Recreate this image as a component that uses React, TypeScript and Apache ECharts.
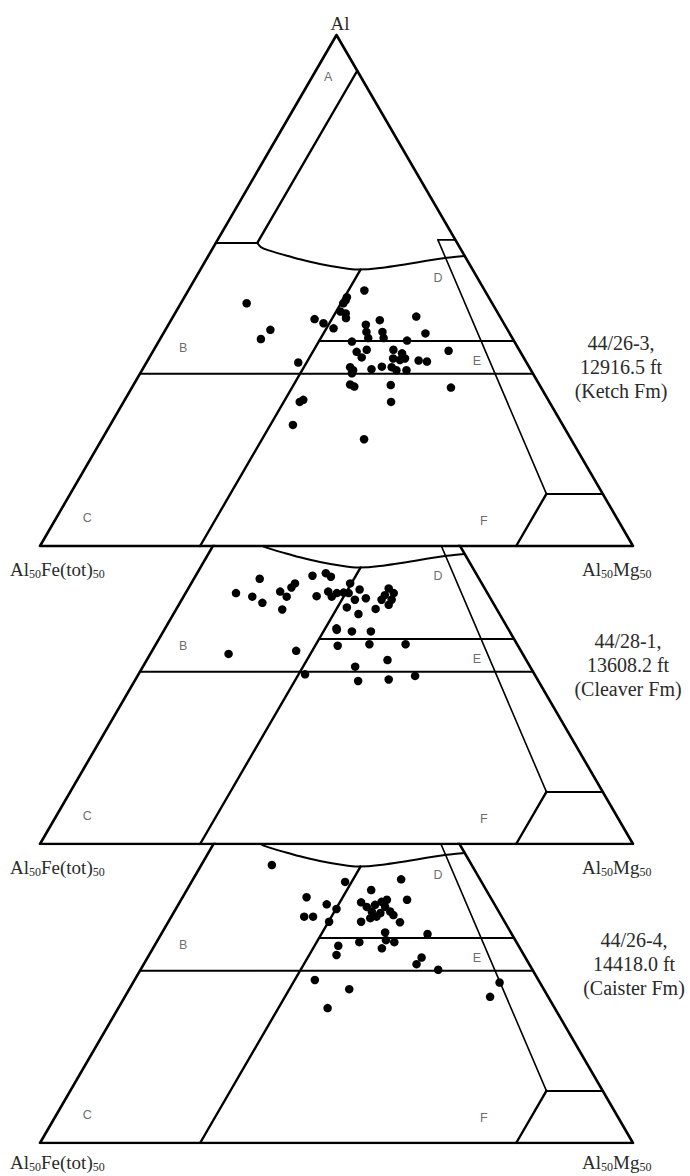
import React, { useEffect, useRef } from "react";
import * as echarts from "echarts";

// Diagram compositions as [Al, Mg] in % of the ternary diagram (Fe(tot) = 100 - Al - Mg)
const ketchPoints: number[][] = [
  [47.5, 11.1], [42.3, 17.7], [40.5, 17.0], [50.0, 29.7], [48.7, 27.4], [48.1, 27.5], [47.5, 27.4],
  [45.9, 27.7], [45.5, 28.8], [44.6, 29.3], [44.4, 24.1], [43.6, 26.0], [42.6, 28.2], [44.2, 35.2],
  [44.9, 41.0], [41.6, 44.2], [43.3, 33.3], [41.9, 34.1], [40.7, 35.0], [41.9, 36.8], [40.7, 37.6],
  [40.0, 32.6], [40.2, 41.8], [38.4, 35.9], [38.0, 34.4], [36.9, 35.8], [38.4, 40.4], [37.7, 42.2],
  [36.7, 41.2], [36.4, 42.5], [36.7, 43.2], [36.3, 45.7], [36.1, 47.2], [38.2, 49.8], [35.9, 25.6],
  [35.0, 34.8], [34.4, 35.6], [33.8, 35.7], [34.6, 38.6], [35.1, 40.1], [35.0, 41.8], [34.4, 42.9],
  [34.4, 44.6], [31.6, 36.5], [31.2, 37.4], [31.5, 43.4], [31.0, 53.8], [28.2, 45.1], [28.2, 29.7],
  [28.6, 30.1], [23.7, 30.8], [20.9, 44.2],
];
const cleaverPoints: number[][] = [
  [51.9, 11.1], [49.1, 8.5], [48.4, 11.6], [47.2, 13.9], [49.4, 15.8], [48.4, 17.4], [50.2, 17.3],
  [51.0, 17.5], [45.9, 17.9], [52.5, 19.7], [53.0, 21.7], [52.3, 22.9], [48.5, 22.4], [49.4, 23.9],
  [48.4, 25.0], [49.1, 25.5], [49.2, 26.6], [51.0, 26.8], [49.1, 27.5], [49.8, 29.0], [47.8, 29.2],
  [48.1, 30.9], [46.3, 28.6], [45.0, 31.2], [46.0, 33.6], [48.7, 33.8], [47.8, 35.4], [46.8, 35.4],
  [47.8, 33.7], [49.1, 35.1], [50.0, 33.8], [42.2, 28.9], [41.9, 29.1], [41.6, 31.8], [41.6, 35.0],
  [37.2, 13.2], [37.8, 24.3], [38.8, 30.8], [39.1, 36.0], [39.1, 42.1], [36.0, 40.6], [34.7, 35.8],
  [33.2, 28.1], [31.9, 37.7], [32.2, 42.7], [32.9, 46.8],
];
const caisterPoints: number[][] = [
  [54.4, 11.9], [51.1, 25.9], [51.6, 35.1], [48.1, 20.9], [46.7, 25.0], [45.8, 27.1], [44.3, 22.4],
  [44.3, 23.9], [43.3, 27.1], [49.5, 31.1], [47.6, 38.1], [47.1, 30.6], [46.2, 32.0], [45.3, 33.3],
  [44.3, 34.6], [47.2, 34.0], [46.2, 35.1], [45.3, 36.4], [44.6, 37.3], [47.6, 34.7], [46.6, 33.2],
  [45.0, 34.9], [44.0, 33.7], [43.3, 32.5], [43.2, 39.1], [41.2, 37.6], [39.7, 38.5], [40.9, 44.9],
  [39.3, 40.1], [39.3, 34.2], [38.1, 38.6], [38.6, 31.0], [36.8, 31.6], [36.3, 46.2], [35.0, 46.0],
  [33.9, 50.2], [31.9, 30.4], [30.1, 37.1], [26.4, 35.3], [31.4, 61.8], [28.6, 61.6],
];

const wells = ["44/26-3,", "44/28-1,", "44/26-4,"];
const depths = ["12916.5 ft", "13608.2 ft", "14418.0 ft"];
const formations = ["(Ketch Fm)", "(Cleaver Fm)", "(Caister Fm)"];

const fieldNames = ["A", "B", "C", "D", "E", "F"];
const fieldPositions: number[][] = [
  [91.8, 2.7], [38.7, 4.8], [5.5, 5.2], [52.4, 40.9], [36.2, 55.6], [4.9, 72.4],
];

// Field boundaries, [Al, Mg]
const outline = [[100, 0], [0, 0], [0, 100], [100, 0]];
const lineA = [[93, 7], [59.3, 7]];
const lineATick = [[59.3, 0], [59.3, 7]];
const curveTop = [
  [59.3, 7], [58.5, 8.0], [57.9, 9.5], [56.9, 12.9], [56.1, 15.8], [55.2, 19.6], [54.4, 23.9],
  [54.1, 26.6], [54.4, 30.1], [56.4, 40.4], [56.75, 43.25],
];
const lineMg27 = [[54.1, 27], [0, 27]];
const lineE1 = [[40.1, 27], [40.1, 59.9]];
const lineE2 = [[33.7, 0], [33.7, 66.3]];
const boxTop = [[59.9, 37.15], [59.9, 40.1]];
const lineInner = [[59.9, 37.15], [10.2, 80.3]];
const lineLowH = [[10.2, 80.3], [10.2, 89.8]];
const lineLowDiag = [[10.2, 80.3], [0, 80.3]];

const boundaries = [
  { pts: outline, w: 2.6 },
  { pts: lineA, w: 2.4 },
  { pts: lineATick, w: 2 },
  { pts: curveTop, w: 2, smooth: 0.3 },
  { pts: lineMg27, w: 2.4 },
  { pts: lineE1, w: 2 },
  { pts: lineE2, w: 2 },
  { pts: boxTop, w: 1.6 },
  { pts: lineInner, w: 1.6 },
  { pts: lineLowH, w: 2 },
  { pts: lineLowDiag, w: 2.4 },
];

const toXY = (p: number[]) => [p[1] + p[0] / 2, p[0]];

export default function App() {
  const ref = useRef<HTMLDivElement>(null);
  useEffect(() => {
    if (!ref.current) return;
    const chart = echarts.init(ref.current, null, { renderer: "svg" });
    const panels = [ketchPoints, cleaverPoints, caisterPoints];
    const bases = [546, 844, 1143];
    const pxPerUnit = 511 / 100;
    const grids: any[] = [];
    const xAxes: any[] = [];
    const yAxes: any[] = [];
    const series: any[] = [];
    const graphics: any[] = [];
    const serif = '"Liberation Serif", "Times New Roman", serif';
    const textColor = "#2a2a2a";
    const rich = {
      n: { fontSize: 19, fontFamily: serif, fill: textColor, color: textColor, lineHeight: 22 },
      s: {
        fontSize: 12,
        fontFamily: serif,
        fill: textColor,
        color: textColor,
        lineHeight: 12,
        verticalAlign: "top",
        padding: [10, 0, 0, 0],
      },
    };
    const rightX = [621, 628, 634];
    const labelDy = [23, 23, 19];
    panels.forEach((pts, i) => {
      const top = i === 0 ? 35 : bases[i - 1];
      const height = bases[i] - top;
      grids.push({ left: 40, top, width: 593, height });
      xAxes.push({ type: "value", gridIndex: i, min: 0, max: 100, show: false });
      yAxes.push({ type: "value", gridIndex: i, min: 0, max: height / pxPerUnit, show: false });
      boundaries.forEach((b) => {
        series.push({
          type: "line",
          xAxisIndex: i,
          yAxisIndex: i,
          data: b.pts.map(toXY),
          symbol: "none",
          smooth: b.smooth || false,
          clip: i > 0,
          silent: true,
          lineStyle: { color: "#000", width: b.w, cap: "round", join: "round" },
        });
      });
      series.push({
        type: "scatter",
        xAxisIndex: i,
        yAxisIndex: i,
        data: pts.map(toXY),
        symbol: "circle",
        symbolSize: 8.5,
        itemStyle: { color: "#000", opacity: 1 },
        silent: true,
      });
      series.push({
        type: "scatter",
        xAxisIndex: i,
        yAxisIndex: i,
        symbolSize: 0,
        silent: true,
        data: fieldNames
          .map((n, k) => ({ name: n, value: toXY(fieldPositions[k]) }))
          .filter((d) => i === 0 || d.name !== "A"),
        label: {
          show: true,
          position: "inside",
          formatter: "{b}",
          fontSize: 12.5,
          fontFamily: '"Liberation Sans", Arial, sans-serif',
          color: "#444",
        },
      });
      const by = bases[i];
      graphics.push({
        type: "text",
        x: 10,
        y: by + labelDy[i],
        style: {
          text: "{n|Al}{s|50}{n|Fe(tot)}{s|50}",
          rich,
          align: "left",
          textAlign: "left",
          verticalAlign: "middle",
          textVerticalAlign: "middle",
        },
      });
      graphics.push({
        type: "text",
        x: 582,
        y: by + labelDy[i],
        style: {
          text: "{n|Al}{s|50}{n|Mg}{s|50}",
          rich,
          align: "left",
          textAlign: "left",
          verticalAlign: "middle",
          textVerticalAlign: "middle",
        },
      });
      graphics.push({
        type: "text",
        x: rightX[i],
        y: by - 179,
        style: {
          text: `${wells[i]}\n${depths[i]}\n${formations[i]}`,
          fontSize: 20,
          fontFamily: serif,
          lineHeight: 24,
          fill: textColor,
          align: "center",
          textAlign: "center",
          verticalAlign: "middle",
          textVerticalAlign: "middle",
        },
      });
    });
    graphics.push({
      type: "text",
      x: 340,
      y: 23,
      style: {
        text: "Al",
        fontSize: 19,
        fontFamily: serif,
        fill: textColor,
        align: "center",
        textAlign: "center",
        verticalAlign: "middle",
        textVerticalAlign: "middle",
      },
    });
    chart.setOption({
      animation: false,
      backgroundColor: "#fff",
      grid: grids,
      xAxis: xAxes,
      yAxis: yAxes,
      series,
      graphic: graphics,
    });
    return () => chart.dispose();
  }, []);
  return (
    <div
      ref={ref}
      style={{ position: "absolute", left: 0, top: 0, width: 690, height: 1176 }}
    />
  );
}
